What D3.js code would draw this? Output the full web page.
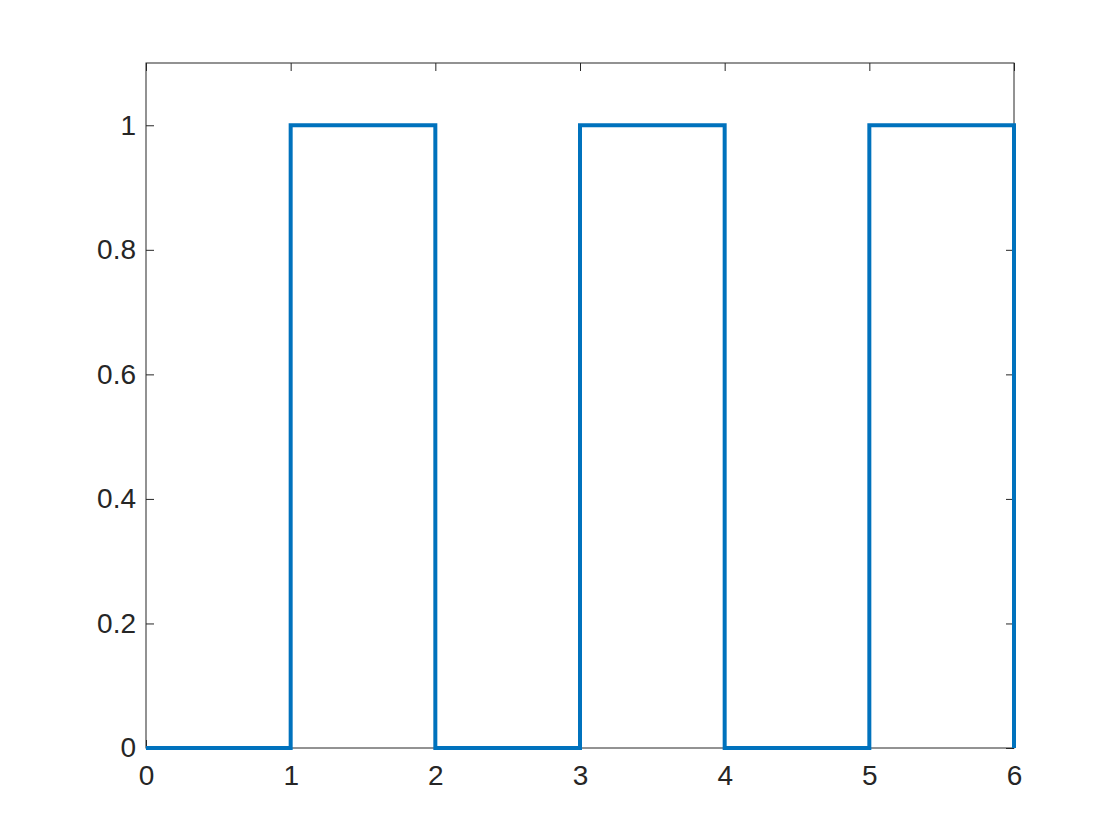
<!DOCTYPE html>
<html>
<head>
<meta charset="utf-8">
<script src="https://cdn.jsdelivr.net/npm/d3@7"></script>
<style>
  body { margin: 0; background: #fff; }
  svg { display: block; }
  .tick text { font-family: "Liberation Sans", Arial, Helvetica, sans-serif; }
</style>
</head>
<body>
<div id="chart"></div>
<script>
// square wave, values at each breakpoint (stepped after)
var xs = [0, 1, 2, 3, 4, 5, 6]
var ys = [0, 1, 0, 1, 0, 1, 0]
var xTicks = [0, 1, 2, 3, 4, 5, 6]
var yTicks = [0, 0.2, 0.4, 0.6, 0.8, 1]

var W = 1120, H = 840
var plotLeft = 146, plotRight = 1014, plotTop = 63, plotBottom = 748
var tickLen = 8
var axisColor = '#262626'

var svg = d3.select('#chart').append('svg')
  .attr('width', W)
  .attr('height', H)

var x = d3.scaleLinear().domain([0, 6]).range([plotLeft, plotRight])
var y = d3.scaleLinear().domain([0, 1.1]).range([plotBottom, plotTop])

function styleAxis(g){
  g.select('.domain').remove()
  g.selectAll('.tick line').attr('stroke', axisColor).attr('stroke-width', 1)
  g.selectAll('.tick text')
    .attr('fill', axisColor)
    .style('font-size', '28px')
}

// bottom axis, ticks pointing inward
svg.append('g')
  .attr('transform', 'translate(0,' + plotBottom + ')')
  .call(d3.axisBottom(x).tickValues(xTicks).tickFormat(d3.format('d'))
    .tickSizeInner(-tickLen).tickSizeOuter(0).tickPadding(17))
  .call(styleAxis)

// top axis, ticks only
svg.append('g')
  .attr('transform', 'translate(0,' + plotTop + ')')
  .call(d3.axisTop(x).tickValues(xTicks).tickFormat('')
    .tickSizeInner(-tickLen).tickSizeOuter(0))
  .call(styleAxis)

// left axis
svg.append('g')
  .attr('transform', 'translate(' + plotLeft + ',0)')
  .call(d3.axisLeft(y).tickValues(yTicks).tickFormat(function(d){ return d3.format('~g')(d) })
    .tickSizeInner(-tickLen).tickSizeOuter(0).tickPadding(10))
  .call(styleAxis)

// right axis, ticks only
svg.append('g')
  .attr('transform', 'translate(' + plotRight + ',0)')
  .call(d3.axisRight(y).tickValues(yTicks).tickFormat('')
    .tickSizeInner(-tickLen).tickSizeOuter(0))
  .call(styleAxis)

// box
svg.append('rect')
  .attr('x', plotLeft).attr('y', plotTop)
  .attr('width', plotRight - plotLeft).attr('height', plotBottom - plotTop)
  .attr('fill', 'none')
  .attr('stroke', axisColor)
  .attr('stroke-width', 1)

var line = d3.line()
  .x(function(d, i){ return x(xs[i]) })
  .y(function(d){ return y(d) })
  .curve(d3.curveStepAfter)

svg.append('path')
  .datum(ys)
  .attr('d', line)
  .attr('fill', 'none')
  .attr('stroke', '#0072BD')
  .attr('stroke-width', 4)
</script>
</body>
</html>
